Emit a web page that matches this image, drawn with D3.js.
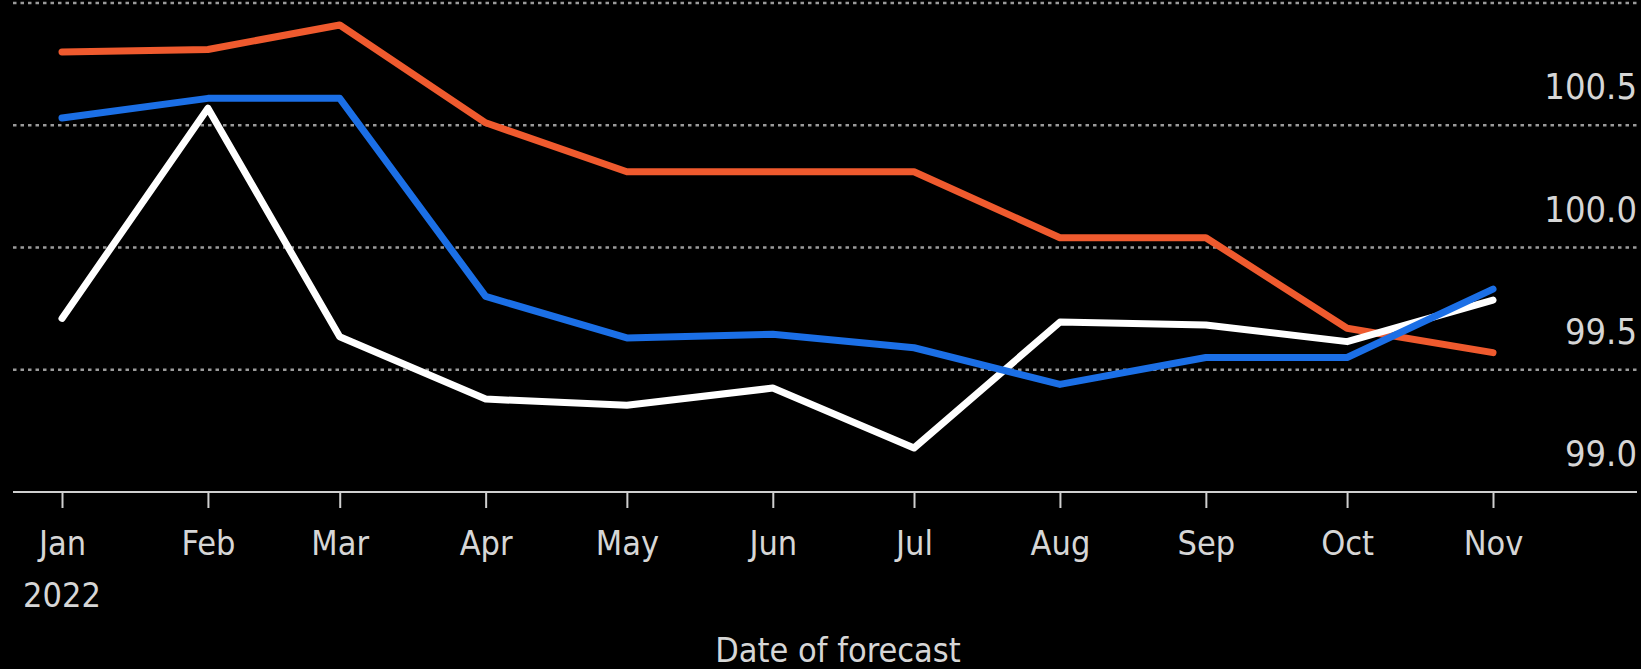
<!DOCTYPE html>
<html>
<head>
<meta charset="utf-8">
<script src="https://cdn.jsdelivr.net/npm/d3@7"></script>
<style>
  html, body { margin: 0; padding: 0; background: #000; }
  svg { display: block; }
</style>
</head>
<body>
<script>
// ---- data ----
const months = ["2022-01-01","2022-02-01","2022-03-01","2022-04-01","2022-05-01","2022-06-01",
                "2022-07-01","2022-08-01","2022-09-01","2022-10-01","2022-11-01"];
const orangeSeries = [100.80, 100.81, 100.91, 100.51, 100.31, 100.31, 100.31, 100.04, 100.04, 99.67, 99.57];
const blueSeries   = [100.53, 100.61, 100.61, 99.80, 99.63, 99.645, 99.59, 99.44, 99.55, 99.55, 99.83];
const whiteSeries  = [99.71, 100.57, 99.635, 99.38, 99.355, 99.425, 99.18, 99.695, 99.683, 99.615, 99.785];
const yTicks = [99.0, 99.5, 100.0, 100.5, 101.0];
const monthLabels = ["Jan","Feb","Mar","Apr","May","Jun","Jul","Aug","Sep","Oct","Nov"];
const yearLabel = "2022";
const xTitle = "Date of forecast";

const W = 1641, H = 669;
const FONT = "'DejaVu Sans Condensed', 'DejaVu Sans', sans-serif";
const TEXT = "#d6d6d6";

const parse = d3.timeParse("%Y-%m-%d");
const dates = months.map(parse);

const x = d3.scaleTime().domain([dates[0], dates[dates.length-1]]).range([62, 1493]);
const y = d3.scaleLinear().domain([99, 101]).range([492, 3]);

const svg = d3.select("body").append("svg").attr("width", W).attr("height", H)
  .style("background", "#000");

// gridlines
svg.append("g").selectAll("line").data(yTicks.filter(t => t > 99)).join("line")
  .attr("x1", 13).attr("x2", 1637)
  .attr("y1", d => y(d)).attr("y2", d => y(d))
  .attr("stroke", "#9a9a9a").attr("stroke-width", 2.5)
  .attr("stroke-dasharray", "3.5,4");

// y labels (above gridlines, right-aligned)
svg.append("g").selectAll("text").data(yTicks.filter(t => t < 101)).join("text")
  .attr("x", 1637).attr("y", d => y(d) - 26)
  .attr("text-anchor", "end")
  .attr("fill", TEXT).attr("font-family", FONT).attr("font-size", 36)
  .text(d => d3.format(".1f")(d));

// x axis
const xAxis = d3.axisBottom(x)
  .tickValues(dates)
  .tickSize(16)
  .tickPadding(23)
  .tickFormat((d, i) => monthLabels[i]);

const gx = svg.append("g").attr("transform", `translate(0,${y(99)})`).call(xAxis);
gx.select(".domain").remove();
gx.selectAll(".tick line").attr("stroke", "#cfcfcf").attr("stroke-width", 2);
gx.selectAll(".tick text").attr("fill", TEXT).attr("font-family", FONT).attr("font-size", 34);
gx.append("line").attr("x1", 13).attr("x2", 1637).attr("y1", 0).attr("y2", 0)
  .attr("stroke", "#cfcfcf").attr("stroke-width", 2);

svg.append("text").attr("x", x(dates[0])).attr("y", 607)
  .attr("text-anchor", "middle").attr("fill", TEXT)
  .attr("font-family", FONT).attr("font-size", 34).text(yearLabel);

svg.append("text").attr("x", 838).attr("y", 662)
  .attr("text-anchor", "middle").attr("fill", TEXT)
  .attr("font-family", FONT).attr("font-size", 34).text(xTitle);

// lines
const line = d3.line().x((d, i) => x(dates[i])).y(d => y(d));
const series = [
  {vals: orangeSeries, color: "#ef5a2e"},
  {vals: whiteSeries, color: "#ffffff"},
  {vals: blueSeries, color: "#1b6fe6"}
];
svg.append("g").selectAll("path").data(series).join("path")
  .attr("d", d => line(d.vals))
  .attr("fill", "none").attr("stroke", d => d.color)
  .attr("stroke-width", 7).attr("stroke-linejoin", "round").attr("stroke-linecap", "round");
</script>
</body>
</html>
